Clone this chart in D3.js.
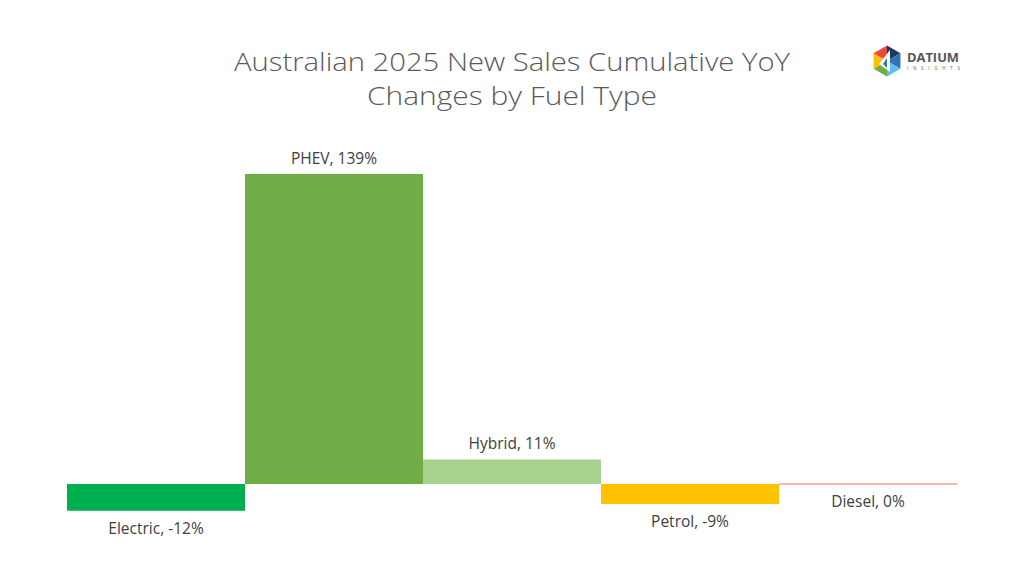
<!DOCTYPE html>
<html><head><meta charset="utf-8">
<script src="https://cdn.jsdelivr.net/npm/d3@7"></script>
<style>html,body{margin:0;padding:0;background:#fff;}svg{display:block;}</style>
</head><body>
<script>
const categories = ["Electric", "PHEV", "Hybrid", "Petrol", "Diesel"];
const values = [-12, 139, 11, -9, 0];
const colors = ["#00B050", "#70AD47", "#A9D18E", "#FFC000", "#FF9999"];
const titleLines = ["Australian 2025 New Sales Cumulative YoY", "Changes by Fuel Type"];

const W = 1024, H = 576;
const svg = d3.select("body").append("svg").attr("width", W).attr("height", H);
const font = "'Open Sans', 'Lato', sans-serif";

const x = d3.scaleBand().domain(categories).range([67, 957]).padding(0);
const y = d3.scaleLinear().domain([0, 139]).range([484, 174]);

svg.append("g").selectAll("text").data(titleLines).join("text")
  .attr("x", 512).attr("y", (d, i) => 71 + i * 34)
  .attr("text-anchor", "middle").attr("font-family", font).attr("font-weight", 300)
  .attr("font-size", 26.5).attr("fill", "#595959")
  .attr("textLength", (d, i) => i === 0 ? 556 : 290).attr("lengthAdjust", "spacingAndGlyphs")
  .text(d => d);

const data = categories.map((c, i) => ({c, v: values[i], col: colors[i]}));

svg.append("g").selectAll("rect").data(data.filter(d => d.v !== 0)).join("rect")
  .attr("x", d => x(d.c)).attr("width", x.bandwidth())
  .attr("y", d => y(Math.max(0, d.v)))
  .attr("height", d => Math.abs(y(d.v) - y(0)))
  .attr("fill", d => d.col);

svg.append("g").selectAll("line").data(data.filter(d => d.v === 0)).join("line")
  .attr("x1", d => x(d.c)).attr("x2", d => x(d.c) + x.bandwidth())
  .attr("y1", y(0)).attr("y2", y(0))
  .attr("stroke", d => d.col).attr("stroke-width", 1.5);

svg.append("g").selectAll("text").data(data).join("text")
  .attr("x", d => x(d.c) + x.bandwidth() / 2)
  .attr("y", d => d.v > 0 ? y(d.v) - 10 : y(Math.min(0, d.v)) + 23)
  .attr("text-anchor", "middle").attr("font-family", font)
  .attr("font-size", 15.5).attr("fill", "#404040")
  .text(d => `${d.c}, ${d.v}%`);

// Logo
const logo = svg.append("g").attr("transform", "translate(887,61)");
const r = 15.5;
const hexPts = d3.range(6).map(k => {
  const a = Math.PI / 180 * (60 * k - 90);
  return [r * Math.cos(a), r * Math.sin(a)];
});
const triCols = ["#1F3864", "#2E75B6", "#5BC0EB", "#70AD47", "#FFC000", "#E84C3D"];
hexPts.forEach((p, k) => {
  const q = hexPts[(k + 1) % 6];
  logo.append("path").attr("d", `M0,0L${p[0]},${p[1]}L${q[0]},${q[1]}Z`).attr("fill", triCols[k]);
});
logo.append("path").attr("d", "M3,-11L3,11L-8,3Z").attr("fill", "#fff");
logo.append("path").attr("d", "M0,-3L0,7L-4,3Z").attr("fill", "#2E75B6");
svg.append("text").attr("x", 907).attr("y", 62).attr("font-family", font)
  .attr("font-size", 12).attr("font-weight", 700).attr("fill", "#555")
  .attr("textLength", 52).attr("lengthAdjust", "spacingAndGlyphs").text("DATIUM");
svg.append("text").attr("x", 907).attr("y", 70).attr("font-family", font)
  .attr("font-size", 4.5).attr("fill", "#666")
  .attr("textLength", 53).attr("lengthAdjust", "spacing").text("INSIGHTS");
</script>
</body></html>
